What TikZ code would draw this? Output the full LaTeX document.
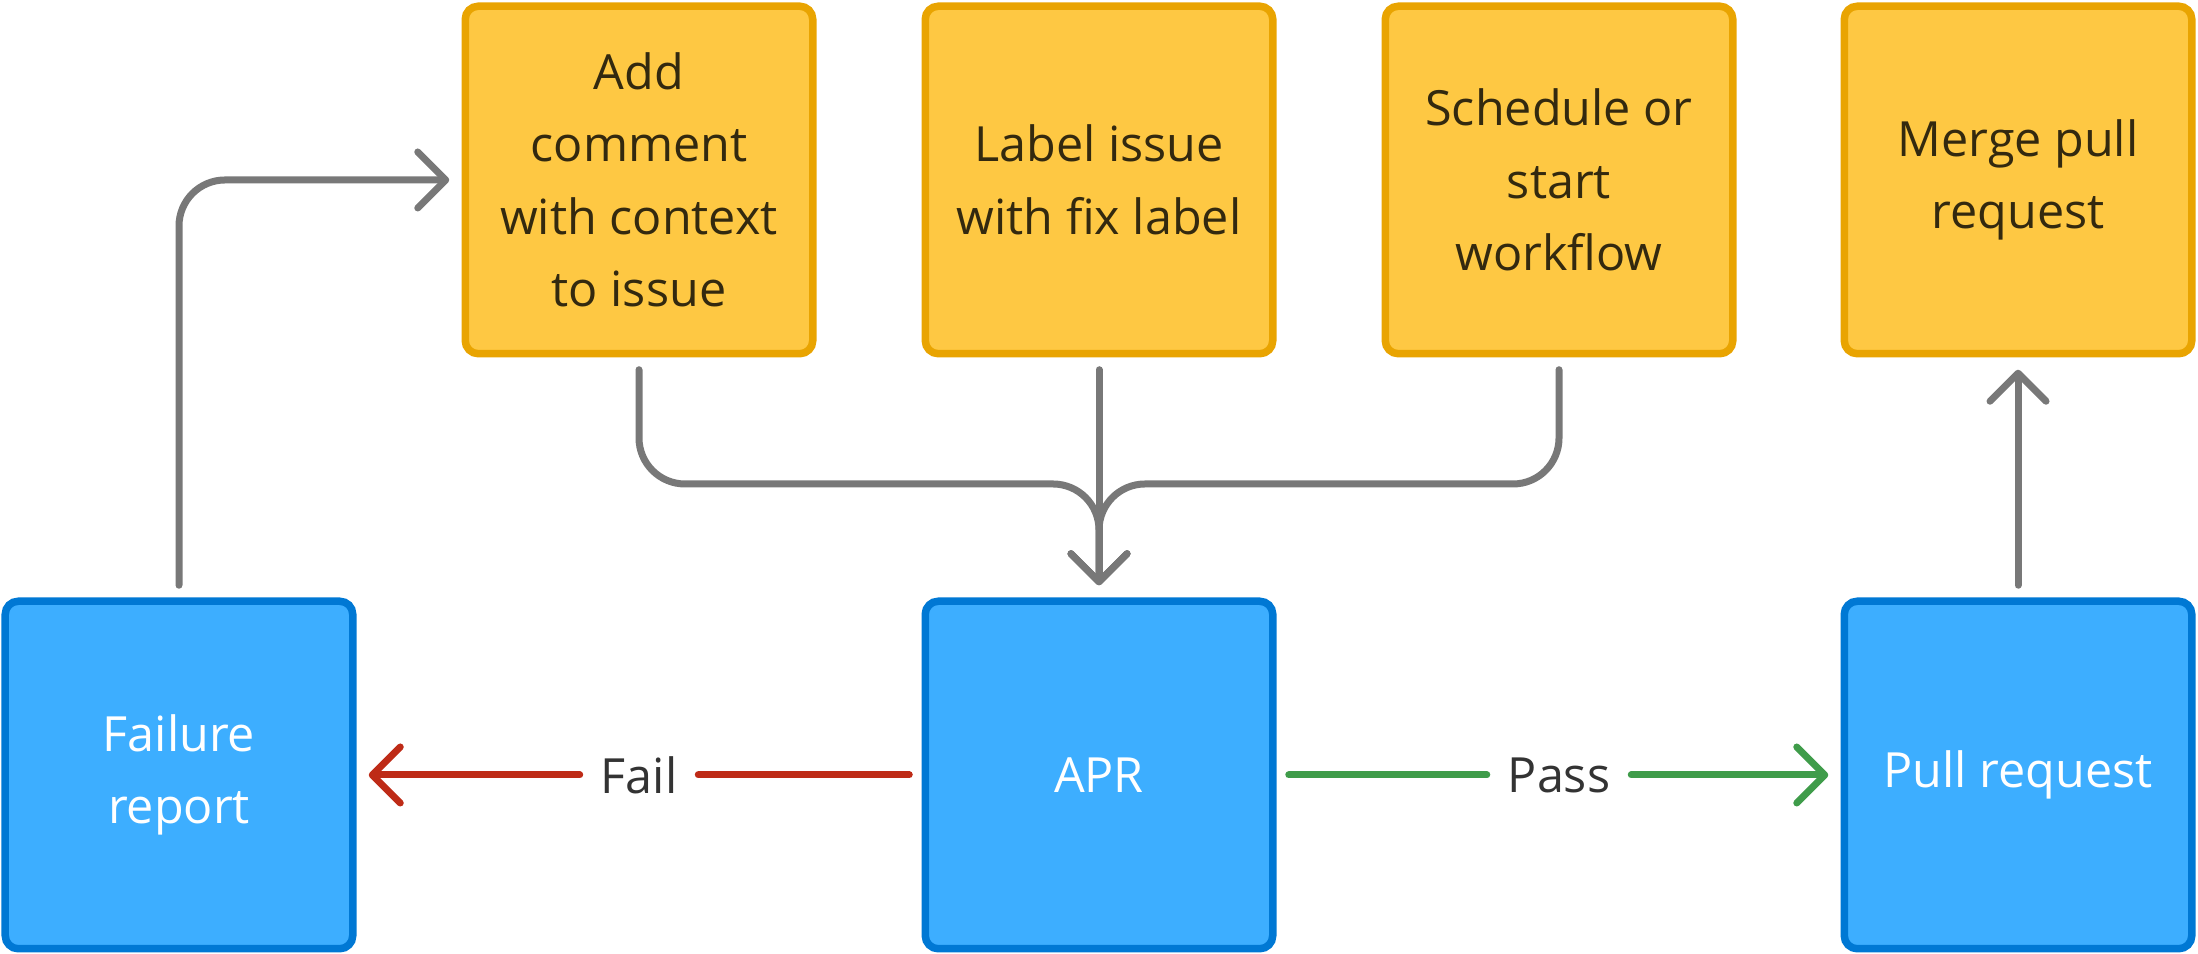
\documentclass[tikz,border=0pt]{standalone}
\usepackage{fontspec}
\setmainfont{Open Sans}
\usetikzlibrary{arrows.meta}
\definecolor{mfill}{HTML}{FEC843}
\definecolor{mline}{HTML}{E9A401}
\definecolor{mbrown}{HTML}{33290F}
\definecolor{bfill}{HTML}{3DAEFF}
\definecolor{bline}{HTML}{0078D4}
\definecolor{mgray}{HTML}{787878}
\definecolor{mred}{HTML}{BE2B17}
\definecolor{mgreen}{HTML}{3F9C4A}
\definecolor{mtext}{HTML}{333333}

\begin{document}
\begin{tikzpicture}[
    box/.style={draw, line width=0.075cm, rounded corners=0.13cm,
      minimum width=3.475cm, minimum height=3.475cm, align=center,
      outer sep=0.16cm, font=\fontsize{13.8}{20.6}\selectfont},
    task/.style={box, draw=mline, fill=mfill, text=mbrown},
    stage/.style={box, draw=bline, fill=bfill, text=white},
    lab/.style={text=mtext, inner xsep=0.21cm, inner ysep=0pt, outer sep=0pt,
      font=\fontsize{13.8}{20.6}\selectfont},
    wire/.style={line width=0.07cm, line cap=round, rounded corners=0.46cm},
    tip/.style={-{Straight Barb[length=0.28cm,width=0.56cm,round]}}
  ]
      \useasboundingbox (0, 0) rectangle (21.98, 9.54);

      \node [task] (add) at (6.39, 7.74) {Add\\comment\\with context\\to issue};
      \node [task] (lbl) at (10.99, 7.74) {Label issue\\with fix label};
      \node [task] (sched) at (15.59, 7.74) {Schedule or\\start\\workflow};
      \node [task] (merge) at (20.18, 7.74) {Merge pull\\request};

      \node [stage] (fr) at (1.79, 1.79) {Failure\\report};
      \node [stage] (apr) at (10.99, 1.79) {APR};
      \node [stage] (pr) at (20.18, 1.79) {Pull request};

      \node [lab] (fail) at (6.39, 1.79) {Fail};
      \node [lab] (pass) at (15.59, 1.79) {Pass};
      \coordinate (join) at (10.99, 4.70);

      \draw [wire, mgray, tip] (fr.north) |- (add.west);
      \draw [wire, mgray, tip] (add.south) |- (join) -- (apr.north);
      \draw [wire, mgray, tip] (sched.south) |- (join) -- (apr.north);
      \draw [wire, mgray, tip] (lbl.south) -- (apr.north);
      \draw [wire, mgray, tip] (pr.north) -- (merge.south);

      \draw [wire, mred] (apr.west) -- (fail.east);
      \draw [wire, mred, tip] (fail.west) -- (fr.east);
      \draw [wire, mgreen] (apr.east) -- (pass.west);
      \draw [wire, mgreen, tip] (pass.east) -- (pr.west);
    \end{tikzpicture}
\end{document}
